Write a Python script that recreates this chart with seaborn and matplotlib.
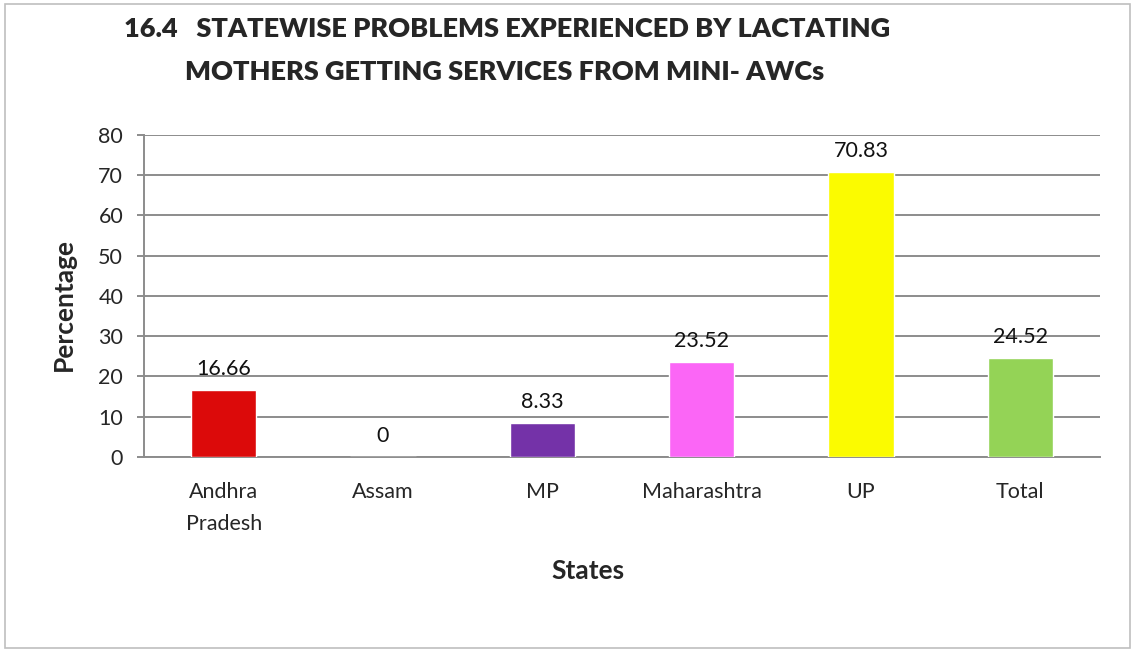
import matplotlib
matplotlib.use("Agg")
import matplotlib.pyplot as plt
import pandas as pd
import seaborn as sns
from matplotlib.patches import Rectangle

states = ["Andhra\nPradesh", "Assam", "MP", "Maharashtra", "UP", "Total"]
percentages = [16.66, 0, 8.33, 23.52, 70.83, 24.52]
value_labels = ["16.66", "0", "8.33", "23.52", "70.83", "24.52"]
bar_colors = ["#dc0a0a", "#4f81bd", "#7432a8", "#fb66f6", "#fbfb00", "#94d356"]
y_ticks = [0, 10, 20, 30, 40, 50, 60, 70, 80]

sns.set_theme(style="white")
plt.rcParams["font.family"] = ["Lato", "DejaVu Sans"]

df = pd.DataFrame({"state": states, "pct": percentages})

fig = plt.figure(figsize=(11.31, 6.55), dpi=100)
ax = fig.add_axes([0.1273, 0.3023, 0.8453, 0.4916])

sns.barplot(data=df, x="state", y="pct", hue="state", palette=bar_colors,
            width=0.41, legend=False, saturation=1, ax=ax, zorder=3)

# value labels above each bar
for i, (v, lab) in enumerate(zip(percentages, value_labels)):
    ax.annotate(lab, (i, v), xytext=(0, 8), textcoords="offset points",
                ha="center", va="bottom", fontsize=15.5, color="#111111")

ax.set_ylim(0, 80)
ax.set_yticks(y_ticks)
ax.yaxis.grid(True, color="#8c8c8c", linewidth=1.4, zorder=0)
ax.set_axisbelow(True)
for side in ["top", "right"]:
    ax.spines[side].set_visible(False)
for side in ["left", "bottom"]:
    ax.spines[side].set_color("#8c8c8c")
    ax.spines[side].set_linewidth(1.4)
ax.tick_params(axis="y", which="major", direction="out", length=5, width=1.4,
               color="#8c8c8c", pad=10, labelsize=15.5, left=True)
ax.tick_params(axis="x", length=0, pad=18, labelsize=15.5)
for t in ax.get_xticklabels():
    t.set_linespacing(1.75)

ax.set_xlabel("States", fontsize=19, fontweight="bold")
ax.set_ylabel("Percentage", fontsize=19, fontweight="bold")
ax.xaxis.set_label_coords(0.464, -0.318)
ax.yaxis.set_label_coords(-0.071, 0.475)

fig.text(0.448, 0.955, "16.4   STATEWISE PROBLEMS EXPERIENCED BY LACTATING",
         ha="center", va="center", fontsize=19.5, fontweight="heavy")
fig.text(0.446, 0.89, "MOTHERS GETTING SERVICES FROM MINI- AWCs",
         ha="center", va="center", fontsize=19.5, fontweight="heavy")

# chart area border
fig.patches.append(Rectangle((0.0044, 0.0107), 0.9947, 0.983,
                             transform=fig.transFigure, fill=False,
                             edgecolor="#bfbfbf", linewidth=1.2))

fig.savefig("out.png", dpi=100)
